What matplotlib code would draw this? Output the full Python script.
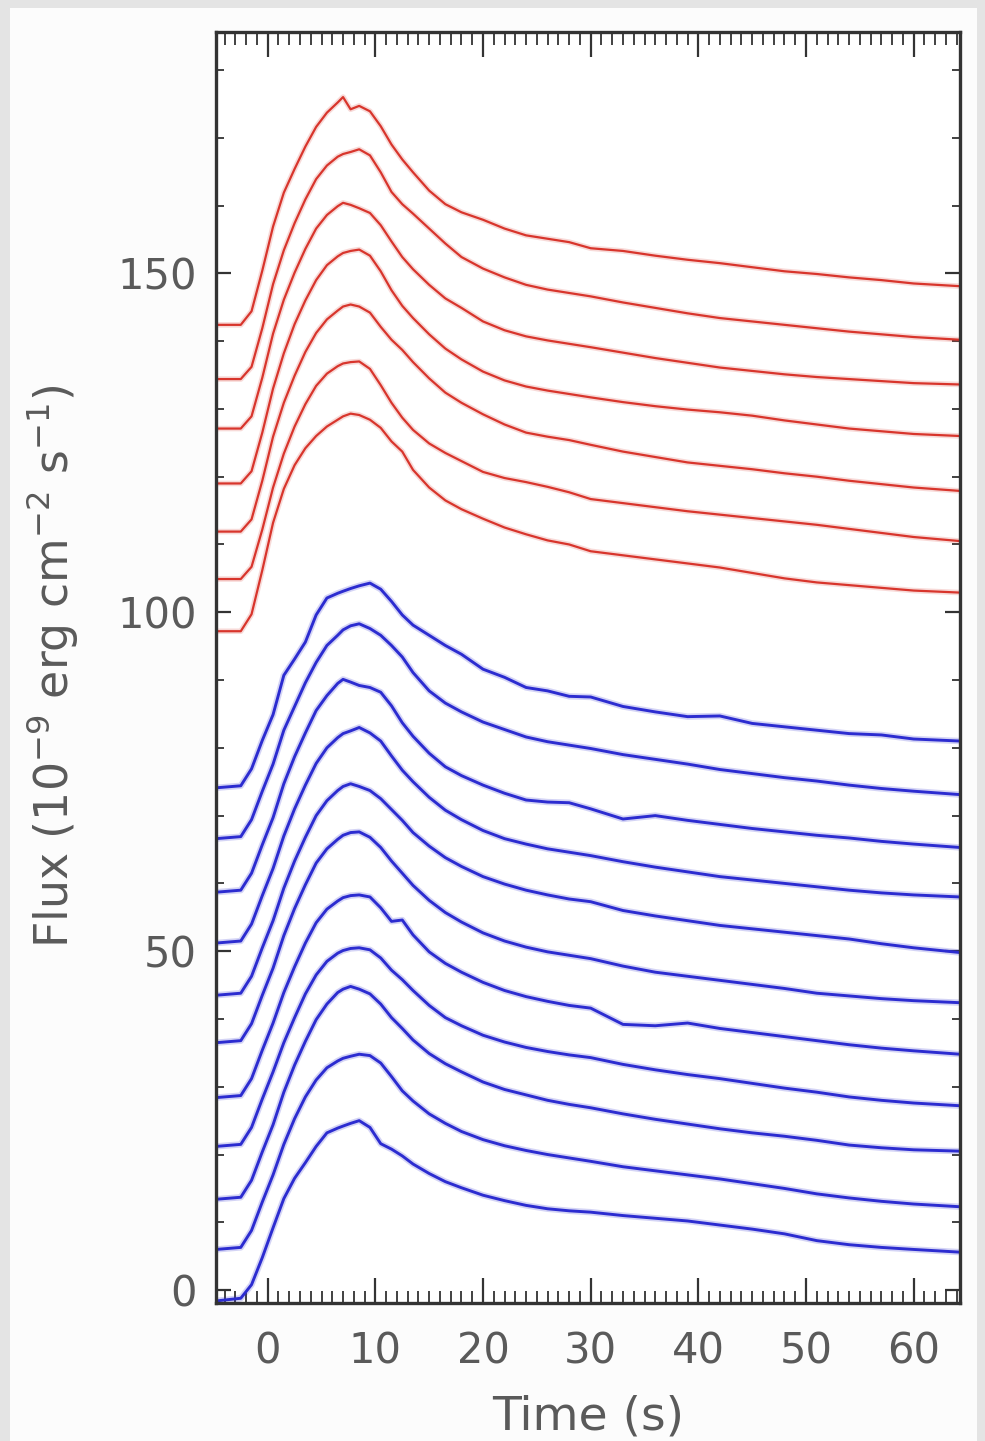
import matplotlib
matplotlib.use("Agg")
import matplotlib.pyplot as plt
from matplotlib.patches import Rectangle
from matplotlib.ticker import MultipleLocator

# ---- data ----
time_s = [-4.8, -2.5, -1.5, -0.5, 0.5, 1.5, 2.5, 3.5, 4.5, 5.5, 6.5, 7.0, 7.7, 8.5, 9.5,
          10.5, 11.5, 12.5, 13.5, 15, 16.5, 18, 20, 22, 24, 26, 28, 30, 33, 36, 39, 42,
          45, 48, 51, 54, 57, 60, 64.3]

red_1 = [142.4, 142.4, 144.4, 150.4, 156.9, 161.9, 165.4, 168.7, 171.6, 173.7, 175.2, 176.0, 174.2,
         174.7, 173.9, 171.7, 169.0, 166.8, 164.9, 162.2, 160.2, 159.0, 157.9, 156.6, 155.6, 155.1,
         154.6, 153.7, 153.3, 152.6, 152.0, 151.5, 150.9, 150.3, 149.9, 149.4, 149.0, 148.5, 148.1]
red_2 = [134.4, 134.4, 136.2, 141.9, 148.4, 153.4, 157.4, 160.9, 163.9, 165.9, 167.2, 167.6, 167.9,
         168.3, 167.4, 164.9, 162.0, 160.2, 158.8, 156.6, 154.4, 152.4, 150.7, 149.4, 148.3, 147.6,
         147.1, 146.6, 145.7, 144.9, 144.1, 143.4, 142.9, 142.4, 141.9, 141.4, 141.0, 140.6, 140.2]
red_3 = [127.1, 127.1, 128.9, 134.6, 141.1, 146.1, 150.1, 153.6, 156.6, 158.6, 159.9, 160.4, 160.1,
         159.6, 158.9, 157.1, 154.7, 152.4, 150.6, 148.3, 146.3, 144.9, 142.9, 141.6, 140.7, 140.1,
         139.6, 139.1, 138.3, 137.5, 136.8, 136.1, 135.6, 135.1, 134.7, 134.4, 134.1, 133.8, 133.6]
red_4 = [119.0, 119.0, 120.8, 126.5, 133.0, 138.2, 142.5, 146.0, 149.0, 151.2, 152.5, 153.0, 153.3,
         153.5, 152.6, 150.3, 147.5, 145.2, 143.4, 141.0, 138.9, 137.3, 135.5, 134.2, 133.3, 132.7,
         132.2, 131.7, 131.0, 130.4, 129.9, 129.5, 129.0, 128.3, 127.7, 127.1, 126.7, 126.3, 126.0]
red_5 = [111.9, 111.9, 113.7, 119.4, 125.9, 130.9, 134.9, 138.4, 141.2, 143.2, 144.5, 145.1, 145.4,
         145.1, 144.2, 142.1, 140.2, 138.7, 136.9, 134.5, 132.4, 130.9, 129.2, 127.7, 126.5, 125.9,
         125.4, 124.7, 123.7, 122.9, 122.1, 121.6, 121.1, 120.5, 120.0, 119.4, 118.9, 118.4, 117.9]
red_6 = [104.9, 104.9, 106.7, 112.2, 118.4, 123.4, 127.4, 130.7, 133.4, 135.2, 136.3, 136.7, 136.9,
         137.0, 135.9, 133.5, 130.9, 128.7, 126.9, 124.9, 123.5, 122.3, 120.7, 119.8, 119.2, 118.5,
         117.7, 116.7, 116.1, 115.5, 114.9, 114.4, 113.9, 113.4, 112.9, 112.3, 111.7, 111.1, 110.5]
red_7 = [97.2, 97.2, 99.7, 106.2, 113.2, 118.2, 121.7, 124.2, 126.0, 127.4, 128.4, 128.9, 129.3,
         129.1, 128.4, 127.2, 125.2, 123.7, 121.0, 118.4, 116.5, 115.2, 113.8, 112.5, 111.5, 110.6,
         110.0, 109.0, 108.4, 107.8, 107.2, 106.6, 105.8, 105.0, 104.4, 104.0, 103.6, 103.2, 102.9]

blue_1 = [74.1, 74.4, 76.9, 81.1, 84.9, 90.7, 93.1, 95.6, 99.6, 102.1, 102.8, 103.1, 103.5, 103.9,
          104.3, 103.4, 101.6, 99.6, 98.1, 96.6, 95.1, 93.8, 91.6, 90.4, 88.9, 88.4, 87.6, 87.5,
          86.1, 85.3, 84.6, 84.7, 83.6, 83.1, 82.6, 82.1, 81.9, 81.3, 81.0]
blue_2 = [66.6, 66.9, 69.4, 73.6, 77.6, 82.6, 86.1, 89.6, 92.6, 95.1, 96.6, 97.4, 98.0, 98.3, 97.6,
          96.6, 95.1, 93.4, 91.1, 88.4, 86.6, 85.3, 83.8, 82.7, 81.6, 80.9, 80.4, 79.9, 79.0, 78.3,
          77.6, 76.8, 76.2, 75.6, 75.1, 74.5, 74.0, 73.6, 73.1]
blue_3 = [58.7, 59.0, 61.5, 65.7, 69.7, 74.7, 78.7, 82.2, 85.5, 87.7, 89.5, 90.1, 89.7, 89.2, 88.9,
          88.2, 86.2, 83.7, 81.7, 79.2, 77.2, 75.9, 74.5, 73.3, 72.3, 72.0, 71.9, 71.0, 69.5, 70.0,
          69.3, 68.7, 68.1, 67.6, 67.1, 66.7, 66.2, 65.8, 65.3]
blue_4 = [51.2, 51.5, 54.0, 58.2, 62.2, 67.0, 71.0, 74.5, 77.7, 80.0, 81.5, 82.1, 82.5, 83.0, 82.2,
          81.0, 78.8, 76.7, 75.0, 72.7, 70.8, 69.4, 67.8, 66.6, 65.8, 65.1, 64.6, 64.1, 63.2, 62.4,
          61.7, 61.0, 60.5, 60.0, 59.5, 59.0, 58.6, 58.3, 58.0]
blue_5 = [43.5, 43.8, 46.3, 50.5, 54.5, 59.3, 63.3, 66.8, 70.0, 72.2, 73.7, 74.3, 74.7, 74.3, 73.7,
          72.5, 70.9, 69.3, 67.5, 65.5, 63.8, 62.5, 61.0, 59.9, 59.0, 58.3, 57.7, 57.3, 56.0, 55.2,
          54.5, 53.8, 53.3, 52.8, 52.3, 51.8, 51.1, 50.5, 49.8]
blue_6 = [36.5, 36.8, 39.3, 43.5, 47.5, 52.3, 56.3, 59.8, 63.0, 65.1, 66.5, 67.1, 67.5, 67.6, 66.8,
          65.3, 63.3, 61.5, 59.7, 57.5, 55.7, 54.3, 52.7, 51.5, 50.6, 49.9, 49.4, 48.9, 47.8, 46.9,
          46.3, 45.7, 45.1, 44.5, 43.8, 43.4, 43.0, 42.7, 42.4]
blue_7 = [28.4, 28.7, 31.2, 35.4, 39.4, 43.9, 47.7, 51.2, 54.2, 56.2, 57.4, 57.9, 58.2, 58.3, 58.0,
          56.4, 54.4, 54.6, 52.4, 49.9, 48.2, 46.9, 45.4, 44.2, 43.3, 42.6, 42.0, 41.6, 39.2, 39.0,
          39.4, 38.6, 38.0, 37.4, 36.8, 36.2, 35.7, 35.3, 34.8]
blue_8 = [21.2, 21.5, 24.0, 28.2, 32.2, 36.5, 40.2, 43.7, 46.5, 48.5, 49.7, 50.1, 50.4, 50.5, 50.2,
          49.0, 47.2, 45.8, 44.2, 42.0, 40.2, 39.0, 37.6, 36.6, 35.8, 35.2, 34.7, 34.3, 33.3, 32.5,
          31.8, 31.2, 30.5, 29.8, 29.2, 28.5, 28.0, 27.6, 27.2]
blue_9 = [13.4, 13.7, 16.2, 20.4, 24.4, 29.2, 33.2, 36.7, 39.9, 42.2, 43.9, 44.4, 44.8, 44.4, 43.7,
          42.2, 40.2, 38.6, 36.9, 34.9, 33.4, 32.2, 30.7, 29.6, 28.8, 28.0, 27.4, 26.9, 26.0, 25.2,
          24.5, 23.8, 23.2, 22.7, 22.1, 21.4, 21.0, 20.7, 20.5]
blue_10 = [6.0, 6.3, 8.8, 13.0, 17.0, 21.5, 25.3, 28.5, 31.0, 32.8, 33.8, 34.2, 34.5, 34.8, 34.6,
           33.5, 31.5, 29.4, 27.9, 26.0, 24.6, 23.4, 22.2, 21.3, 20.6, 20.0, 19.5, 19.0, 18.2, 17.6,
           17.0, 16.4, 15.7, 15.0, 14.2, 13.6, 13.1, 12.7, 12.3]
blue_11 = [-1.6, -1.2, 0.8, 4.8, 9.2, 13.5, 16.5, 18.8, 21.2, 23.2, 23.9, 24.2, 24.6, 25.0, 24.0,
           21.6, 20.8, 19.8, 18.6, 17.2, 16.0, 15.1, 14.0, 13.2, 12.5, 12.0, 11.7, 11.5, 11.0, 10.6,
           10.2, 9.6, 9.0, 8.3, 7.3, 6.7, 6.3, 6.0, 5.6]

red_curves = [red_1, red_2, red_3, red_4, red_5, red_6, red_7]
blue_curves = [blue_1, blue_2, blue_3, blue_4, blue_5, blue_6, blue_7, blue_8, blue_9, blue_10, blue_11]

x_ticks = [0, 10, 20, 30, 40, 50, 60]
y_ticks = [0, 50, 100, 150]
x_label = "Time (s)"
y_label = r"Flux (10$^{-9}$ erg cm$^{-2}$ s$^{-1}$)"

# ---- figure ----
W, H = 985, 1441
fig = plt.figure(figsize=(W / 100, H / 100), dpi=100, facecolor="#e4e4e4")
fig.patches.append(Rectangle((10 / W, 0), (977 - 10) / W, 1 - 8 / H, transform=fig.transFigure,
                             facecolor="#fcfcfc", edgecolor="none", zorder=-10))

ax = fig.add_axes([216 / W, 1 - 1303 / H, (960 - 216) / W, (1303 - 32) / H])
ax.set_zorder(5)
ax.set_facecolor("white")

red_color = "#d8352c"
blue_color = "#2c2cd0"
for ys in red_curves:
    ax.plot(time_s, ys, color=red_color, lw=4.0, alpha=0.18, solid_joinstyle="round")
    ax.plot(time_s, ys, color=red_color, lw=1.6, solid_joinstyle="round")
for ys in blue_curves:
    ax.plot(time_s, ys, color=blue_color, lw=4.6, alpha=0.2, solid_joinstyle="round")
    ax.plot(time_s, ys, color=blue_color, lw=2.1, solid_joinstyle="round")

ax.set_xlim(-4.8, 64.3)
ax.set_ylim(-1.9, 185.6)
ax.set_xticks(x_ticks)
ax.set_yticks(y_ticks)
ax.xaxis.set_minor_locator(MultipleLocator(1))
ax.yaxis.set_minor_locator(MultipleLocator(10))

tick_color = "#333333"
ax.tick_params(axis="both", which="both", direction="in", top=True, right=True, color=tick_color)
ax.tick_params(axis="x", which="major", length=18, width=1.6)
ax.tick_params(axis="x", which="minor", length=9, width=1.3)
ax.tick_params(axis="y", which="major", length=11, width=1.6)
ax.tick_params(axis="y", which="minor", length=5.5, width=1.3)
ax.tick_params(axis="x", which="major", pad=20, labelsize=30, labelcolor="#5a5a5a")
ax.tick_params(axis="y", which="major", pad=14, labelsize=30, labelcolor="#5a5a5a")
for sp in ax.spines.values():
    sp.set_linewidth(2.4)
    sp.set_color(tick_color)

fig.text(588 / W, 1 - 1417 / H, x_label, ha="center", va="center", fontsize=34, color="#5a5a5a")
fig.text(52 / W, 1 - 666 / H, y_label, ha="center", va="center", rotation=90, fontsize=33,
         color="#5a5a5a")

fig.savefig("out.png", dpi=100, facecolor=fig.get_facecolor())
